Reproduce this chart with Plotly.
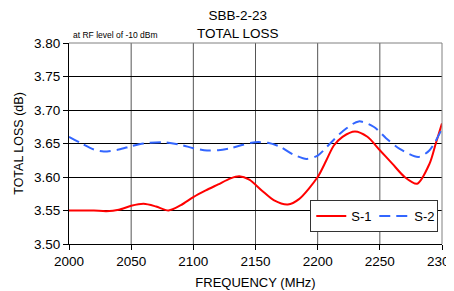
import plotly.graph_objects as go

freq_s1 = [2000, 2010, 2020, 2030, 2040, 2050, 2060, 2070, 2080, 2090, 2100, 2110, 2120,
           2130, 2137, 2145, 2155, 2165, 2176, 2185, 2200, 2207, 2213, 2220, 2230, 2240,
           2250, 2260, 2270, 2280, 2290, 2295, 2300]
s1 = [3.550, 3.550, 3.550, 3.549, 3.551, 3.557, 3.560, 3.556, 3.550, 3.558, 3.570, 3.580, 3.589,
      3.598, 3.601, 3.596, 3.580, 3.565, 3.559, 3.567, 3.600, 3.625, 3.647, 3.660, 3.668, 3.660,
      3.640, 3.620, 3.600, 3.590, 3.620, 3.650, 3.680]

freq_s2 = [2000, 2010, 2020, 2028, 2040, 2050, 2060, 2076, 2090, 2100, 2111, 2120, 2130, 2140,
           2150, 2160, 2170, 2180, 2191, 2200, 2210, 2220, 2233, 2245, 2255, 2266, 2281, 2290, 2300]
s2 = [3.660, 3.650, 3.641, 3.638, 3.641, 3.646, 3.650, 3.652, 3.648, 3.643, 3.6395, 3.640, 3.643,
      3.648, 3.652, 3.651, 3.645, 3.634, 3.627, 3.632, 3.650, 3.668, 3.683, 3.675, 3.658, 3.642,
      3.630, 3.640, 3.672]

x_ticks = [2000, 2050, 2100, 2150, 2200, 2250, 2300]
y_ticks = [3.50, 3.55, 3.60, 3.65, 3.70, 3.75, 3.80]

FONT = "Liberation Sans, Arial, sans-serif"

fig = go.Figure()
fig.add_trace(go.Scatter(x=freq_s1, y=s1, name="S-1", mode="lines",
                         line=dict(color="#ff0000", width=2, shape="spline", smoothing=0.8)))
fig.add_trace(go.Scatter(x=freq_s2, y=s2, name="S-2", mode="lines",
                         line=dict(color="#3366ff", width=2, shape="spline", smoothing=0.8,
                                   dash="11px,6px")))

# vertical gridlines (gray)
for xv in x_ticks[1:-1]:
    fig.add_shape(type="line", xref="x", yref="paper", x0=xv, x1=xv, y0=0, y1=1,
                  line=dict(color="#555555", width=1), layer="below")

# page body has an 8px margin, so the figure is sized/placed to compensate
fig.update_layout(
    width=446, height=283,
    margin=dict(l=61, r=12, t=35, b=47, autoexpand=False),
    paper_bgcolor="white", plot_bgcolor="white",
    font=dict(family=FONT, size=13, color="black"),
    showlegend=True,
    legend=dict(orientation="h", x=0.99, xanchor="right", y=0.06, yanchor="bottom",
                bgcolor="white", bordercolor="#333333", borderwidth=1,
                font=dict(size=13, family=FONT), itemwidth=30,
                entrywidth=18, entrywidthmode="pixels"),
    xaxis=dict(range=[2000, 2300], tickvals=x_ticks, ticktext=[str(v) for v in x_ticks],
               showgrid=False, zeroline=False, showline=True, linecolor="black", linewidth=1,
               ticks="outside", ticklen=5, tickcolor="black", mirror=False,
               ticklabeloverflow="allow", automargin=False,
               title=dict(text="FREQUENCY (MHz)", font=dict(size=13), standoff=9),
               tickfont=dict(size=13.5)),
    yaxis=dict(range=[3.50, 3.80], tickvals=y_ticks, ticktext=["%.2f" % v for v in y_ticks],
               showgrid=True, gridcolor="black", gridwidth=1, zeroline=False,
               showline=True, linecolor="black", linewidth=1,
               ticks="outside", ticklen=5, tickcolor="black", automargin=False,
               title=dict(text="TOTAL LOSS (dB)", font=dict(size=12.5), standoff=7),
               tickfont=dict(size=13.5)),
)

# gray top and right border
fig.add_shape(type="line", xref="paper", yref="paper", x0=0, x1=1, y0=1, y1=1,
              line=dict(color="#808080", width=1))
fig.add_shape(type="line", xref="paper", yref="paper", x0=1, x1=1, y0=0, y1=1,
              line=dict(color="#808080", width=1))

fig.add_annotation(text="SBB-2-23<br>TOTAL LOSS", xref="paper", yref="paper",
                   x=0.453, y=0.998, xanchor="center", yanchor="bottom", showarrow=False,
                   font=dict(size=13.5, family=FONT, color="black"))

fig.add_annotation(text="at RF level of -10 dBm", xref="paper", yref="paper",
                   x=0.005, y=1.005, xanchor="left", yanchor="bottom", showarrow=False,
                   font=dict(size=8.5, family=FONT, color="black"))

fig.write_html("out.html")
